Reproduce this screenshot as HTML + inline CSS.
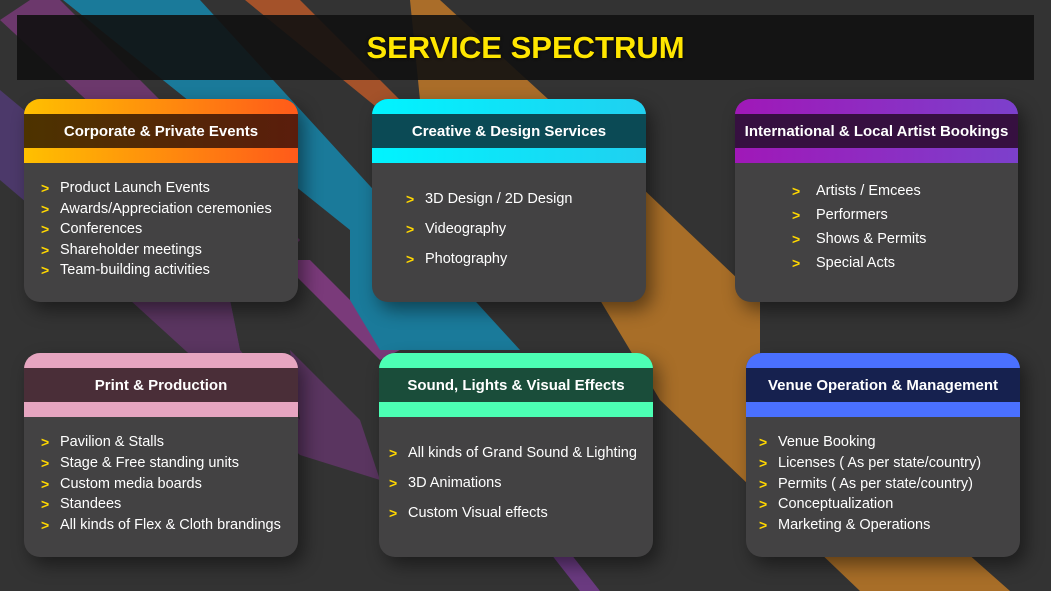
<!DOCTYPE html>
<html><head><meta charset="utf-8"><style>
*{margin:0;padding:0;box-sizing:border-box}
body{width:1051px;height:591px;overflow:hidden;background:#333;font-family:"Liberation Sans",Arial,sans-serif;position:relative}
svg.bg{position:absolute;left:0;top:0}
.title{position:absolute;left:17px;top:15px;width:1017px;height:65px;background:rgba(17,17,17,.9);color:#ffe600;font-weight:bold;font-size:31px;text-align:center;line-height:66px;text-shadow:0 0 3px #000}
.card{position:absolute;background:#434243;border-radius:16px;box-shadow:6px 8px 18px rgba(0,0,0,.45);overflow:hidden}
.cap{position:absolute;left:0;top:0;width:100%;height:15px}
.hd{position:absolute;left:0;top:15px;width:100%;height:34px;color:#fff;font-weight:bold;font-size:15px;text-align:center;line-height:36px}
.bar{position:absolute;left:0;top:49px;width:100%;height:15px}
.it{position:absolute;color:#fff;font-size:14.5px;white-space:nowrap;line-height:18px}
.it b{position:absolute;color:#ffd700;font-weight:bold;font-size:14px}
</style></head><body>
<svg class="bg" width="1051" height="591">
<polygon points="0,20 30,0 60,0 300,240 270,270" fill="#7a3a7a" opacity=".8"/>
<polygon points="0,90 0,180 200,350 240,350 230,300 120,190" fill="#4f3a70" opacity=".9"/>
<polygon points="130,300 230,300 240,350 300,420 290,350 360,420 380,480 300,455" fill="#5a3560"/>
<polygon points="280,260 310,260 400,350 380,360" fill="#7a3a7a"/>
<polygon points="63,0 200,0 520,350 380,350 350,300 350,230" fill="#1a7a9a"/>
<polygon points="245,0 300,0 430,130 380,110" fill="#c05a28" opacity=".8"/>
<polygon points="410,0 440,0 560,110 420,100" fill="#c07828" opacity=".85"/>
<polygon points="470,120 560,110 760,300 760,370 1010,591 860,591 660,400 600,300" fill="#a86e28"/>
<polygon points="540,540 560,540 600,591 580,591" fill="#6a3a80"/>
</svg>
<div class="title">SERVICE SPECTRUM</div>

<div class="card" style="left:24px;top:99px;width:274px;height:203px">
<div class="cap" style="background:linear-gradient(90deg,#ffc000,#ff5a1a)"></div>
<div class="hd" style="background:linear-gradient(90deg,#4d3300,#5a1d0c)">Corporate &amp; Private Events</div>
<div class="bar" style="background:linear-gradient(90deg,#ffc000,#ff5a1a)"></div>
</div>
<div class="card" style="left:372px;top:99px;width:274px;height:203px">
<div class="cap" style="background:linear-gradient(90deg,#00f4ff,#20d0f0)"></div>
<div class="hd" style="background:#0b4a55">Creative &amp; Design Services</div>
<div class="bar" style="background:linear-gradient(90deg,#00f4ff,#20d0f0)"></div>
</div>
<div class="card" style="left:735px;top:99px;width:283px;height:203px">
<div class="cap" style="background:linear-gradient(90deg,#a018b8,#7c40cc)"></div>
<div class="hd" style="background:#361040">International &amp; Local Artist Bookings</div>
<div class="bar" style="background:linear-gradient(90deg,#a018b8,#7c40cc)"></div>
</div>
<div class="card" style="left:24px;top:353px;width:274px;height:204px">
<div class="cap" style="background:#e6a5c0"></div>
<div class="hd" style="background:#4a2e38">Print &amp; Production</div>
<div class="bar" style="background:#e6a5c0"></div>
</div>
<div class="card" style="left:379px;top:353px;width:274px;height:204px">
<div class="cap" style="background:#4cffb4"></div>
<div class="hd" style="background:#1a4d3a">Sound, Lights &amp; Visual Effects</div>
<div class="bar" style="background:#4cffb4"></div>
</div>
<div class="card" style="left:746px;top:353px;width:274px;height:204px">
<div class="cap" style="background:#4a70ff"></div>
<div class="hd" style="background:#16214f">Venue Operation &amp; Management</div>
<div class="bar" style="background:#4a70ff"></div>
</div>

<div class="it" style="left:60px;top:179px"><b style="left:-19px">&gt;</b>Product Launch Events</div>
<div class="it" style="left:60px;top:200px"><b style="left:-19px">&gt;</b>Awards/Appreciation ceremonies</div>
<div class="it" style="left:60px;top:220px"><b style="left:-19px">&gt;</b>Conferences</div>
<div class="it" style="left:60px;top:241px"><b style="left:-19px">&gt;</b>Shareholder meetings</div>
<div class="it" style="left:60px;top:261px"><b style="left:-19px">&gt;</b>Team-building activities</div>

<div class="it" style="left:425px;top:190px"><b style="left:-19px">&gt;</b>3D Design / 2D Design</div>
<div class="it" style="left:425px;top:220px"><b style="left:-19px">&gt;</b>Videography</div>
<div class="it" style="left:425px;top:250px"><b style="left:-19px">&gt;</b>Photography</div>

<div class="it" style="left:816px;top:182px"><b style="left:-24px">&gt;</b>Artists / Emcees</div>
<div class="it" style="left:816px;top:206px"><b style="left:-24px">&gt;</b>Performers</div>
<div class="it" style="left:816px;top:230px"><b style="left:-24px">&gt;</b>Shows &amp; Permits</div>
<div class="it" style="left:816px;top:254px"><b style="left:-24px">&gt;</b>Special Acts</div>

<div class="it" style="left:60px;top:433px"><b style="left:-19px">&gt;</b>Pavilion &amp; Stalls</div>
<div class="it" style="left:60px;top:454px"><b style="left:-19px">&gt;</b>Stage &amp; Free standing units</div>
<div class="it" style="left:60px;top:475px"><b style="left:-19px">&gt;</b>Custom media boards</div>
<div class="it" style="left:60px;top:495px"><b style="left:-19px">&gt;</b>Standees</div>
<div class="it" style="left:60px;top:516px"><b style="left:-19px">&gt;</b>All kinds of Flex &amp; Cloth brandings</div>

<div class="it" style="left:408px;top:444px"><b style="left:-19px">&gt;</b>All kinds of Grand Sound &amp; Lighting</div>
<div class="it" style="left:408px;top:474px"><b style="left:-19px">&gt;</b>3D Animations</div>
<div class="it" style="left:408px;top:504px"><b style="left:-19px">&gt;</b>Custom Visual effects</div>

<div class="it" style="left:778px;top:433px"><b style="left:-19px">&gt;</b>Venue Booking</div>
<div class="it" style="left:778px;top:454px"><b style="left:-19px">&gt;</b>Licenses ( As per state/country)</div>
<div class="it" style="left:778px;top:475px"><b style="left:-19px">&gt;</b>Permits ( As per state/country)</div>
<div class="it" style="left:778px;top:495px"><b style="left:-19px">&gt;</b>Conceptualization</div>
<div class="it" style="left:778px;top:516px"><b style="left:-19px">&gt;</b>Marketing &amp; Operations</div>
</body></html>
